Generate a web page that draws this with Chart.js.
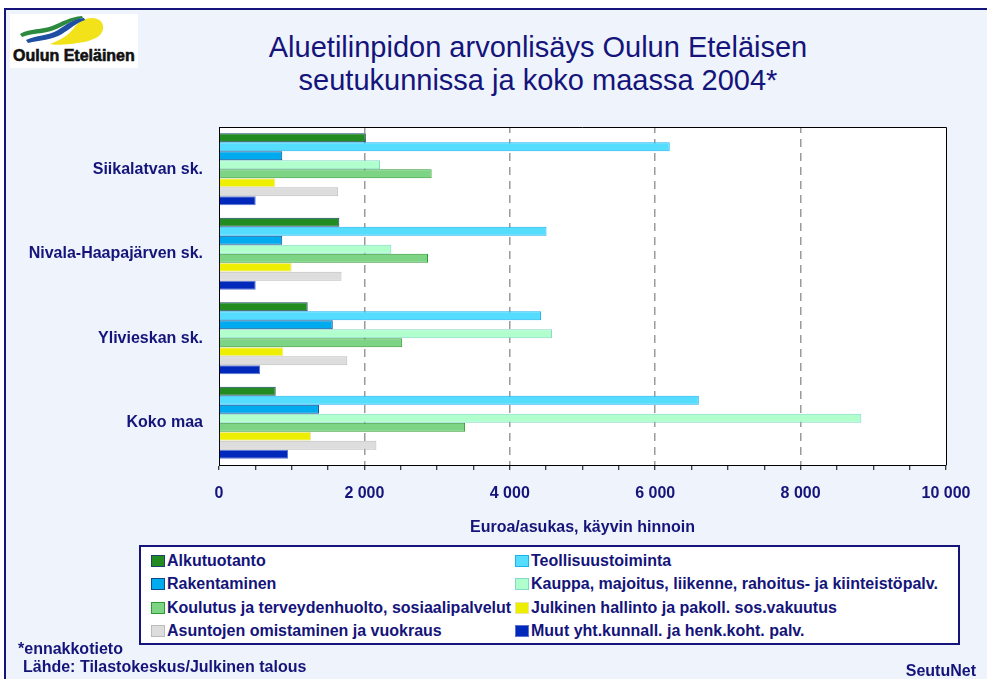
<!DOCTYPE html>
<html>
<head>
<meta charset="utf-8">
<script src="https://cdn.jsdelivr.net/npm/chart.js@4"></script>
<style>
  html, body { margin: 0; padding: 0; width: 987px; height: 679px; overflow: hidden; background: #fff;
    font-family: "Liberation Sans", Arial, sans-serif; }
  #frame { position: absolute; left: 4px; top: 8px; width: 990px; height: 680px;
    border-top: 2px solid #14147a; border-left: 2px solid #14147a; background: #eef3fc; }
  #wrap { position: absolute; left: 0; top: 0; width: 987px; height: 679px; }
  #logo { position: absolute; left: 10px; top: 14px; }
  .title { position: absolute; left: 153px; width: 770px; text-align: center; color: #14147a;
    font-size: 29px; line-height: 33px; top: 31px; }
  #legend { position: absolute; left: 139px; top: 545px; width: 817px; height: 96px;
    border: 2px solid #14147a; background: #fff; }
  .item { position: absolute; font-size: 16px; font-weight: bold; color: #14147a; white-space: nowrap;
    line-height: 18px; }
  .item span.sw { display: inline-block; width: 12px; height: 10px; margin-right: 2px; vertical-align: -1px; }
  .note { position: absolute; font-size: 16px; font-weight: bold; color: #14147a; white-space: nowrap; }
</style>
</head>
<body>
<div id="frame"></div>
<svg id="logo" width="128" height="54" viewBox="0 0 128 54">
  <rect x="0" y="0" width="128" height="54" fill="#fff"/>
  <path d="M40 30 C50 26, 58 22, 64 14 C68 8, 74 4, 82 4 C90 4, 94 9, 93 15 C92 22, 84 26, 74 28 C62 30, 50 32, 40 30 Z" fill="#f2e21a"/>
  <path d="M10 20 C20 14, 32 16, 42 12 C52 8, 60 3, 72 2 L73 4 C62 6, 54 12, 44 16 C34 20, 22 19, 12 23 Z" fill="#2b8a3e"/>
  <path d="M16 26 C26 21, 38 22, 48 16 C56 11, 62 5, 74 4 L75 6 C66 9, 60 15, 52 20 C42 26, 30 26, 18 29 Z" fill="#1f4fa3"/>
  <text x="3" y="47" font-family="Liberation Sans, Arial, sans-serif" font-weight="bold" font-size="16"
    fill="#111" stroke="#111" stroke-width="0.6">Oulun Eteläinen</text>
</svg>
<div class="title">Aluetilinpidon arvonlisäys Oulun Eteläisen<br>seutukunnissa ja koko maassa 2004*</div>
<div id="wrap"><canvas id="chart" width="987" height="679"></canvas></div>
<div id="legend"></div>
<div class="note" style="left:18px; top:640px;">*ennakkotieto</div>
<div class="note" style="left:23px; top:658px;">Lähde: Tilastokeskus/Julkinen talous</div>
<div class="note" style="right:11px; top:662px;">SeutuNet</div>
<script>
var regions = ['Siikalatvan sk.', 'Nivala-Haapajärven sk.', 'Ylivieskan sk.', 'Koko maa'];

var seriesNames = [
  'Alkutuotanto',
  'Teollisuustoiminta',
  'Rakentaminen',
  'Kauppa, majoitus, liikenne, rahoitus- ja kiinteistöpalv.',
  'Koulutus ja terveydenhuolto, sosiaalipalvelut',
  'Julkinen hallinto ja pakoll. sos.vakuutus',
  'Asuntojen omistaminen ja vuokraus',
  'Muut yht.kunnall. ja henk.koht. palv.'
];

// euro per inhabitant, one value per region
var alkutuotanto = [2020, 1655, 1220, 780];
var teollisuus = [6200, 4505, 4430, 6600];
var rakentaminen = [870, 870, 1565, 1375];
var kauppa = [2215, 2370, 4580, 8835];
var koulutus = [2925, 2875, 2520, 3385];
var julkinen = [775, 1000, 885, 1265];
var asuntojen = [1640, 1685, 1765, 2165];
var muut = [505, 505, 565, 950];

var xTicks = [0, 2000, 4000, 6000, 8000, 10000];

var fills = ['#228b22', '#55ddff', '#00aaee', '#b0ffcc', '#7cd484', '#eeee00', '#dddddd', '#0028bb'];
var borders = ['#1a426e', '#1ab2ee', '#0b4c8c', '#80d8c8', '#2f9a30', '#eae6a8', '#bbbbbb', '#5c74d0'];

var values = [alkutuotanto, teollisuus, rakentaminen, kauppa, koulutus, julkinen, asuntojen, muut];

Chart.defaults.font.family = '"Liberation Sans", Arial, sans-serif';

var frameBox = {
  id: 'frameBox',
  afterDraw: function (chart) {
    var a = chart.chartArea;
    var ctx = chart.ctx;
    ctx.save();
    ctx.strokeStyle = '#000';
    ctx.lineWidth = 1;
    ctx.beginPath();
    ctx.moveTo(a.left, a.top + 0.5);
    ctx.lineTo(a.right + 0.5, a.top + 0.5);
    ctx.lineTo(a.right + 0.5, a.bottom);
    ctx.stroke();
    ctx.restore();
  },
  beforeDraw: function (chart) {
    var a = chart.chartArea;
    chart.ctx.save();
    chart.ctx.fillStyle = '#fff';
    chart.ctx.fillRect(a.left, a.top, a.right - a.left, a.bottom - a.top);
    chart.ctx.restore();
  }
};

function fmt(v) {
  return String(v).replace(/\B(?=(\d{3})+(?!\d))/g, ' ');
}

var chart = new Chart(document.getElementById('chart'), {
  type: 'bar',
  data: {
    labels: regions,
    datasets: seriesNames.map(function (name, i) {
      return {
        label: name,
        data: values[i],
        backgroundColor: fills[i],
        borderColor: borders[i],
        borderWidth: 1,
        barPercentage: 1,
        categoryPercentage: 0.855
      };
    })
  },
  options: {
    indexAxis: 'y',
    responsive: false,
    animation: false,
    layout: { padding: { top: 127, right: 41, bottom: 134, left: 0 } },
    plugins: {
      legend: { display: false },
      tooltip: { enabled: false }
    },
    scales: {
      x: {
        min: 0,
        max: 10000,
        ticks: {
          stepSize: 500,
          autoSkip: false,
          maxRotation: 0,
          padding: 14,
          color: '#14147a',
          font: { size: 16, weight: 'bold' },
          callback: function (v) {
            return xTicks.indexOf(v) >= 0 ? fmt(v) : '';
          }
        },
        grid: {
          color: function (c) {
            var v = c.tick ? c.tick.value : 0;
            return (v % 2000 === 0 && v > 0 && v < 10000) ? '#9a9a9a' : 'rgba(0,0,0,0)';
          },
          lineWidth: 1.5,
          tickColor: '#000',
          tickLength: 5,
          tickWidth: 1
        },
        border: { color: '#000', width: 1, dash: [8, 6], dashOffset: 2 },
        title: {
          display: true,
          text: 'Euroa/asukas, käyvin hinnoin',
          color: '#14147a',
          font: { size: 16, weight: 'bold' },
          padding: { top: 0, bottom: 8 }
        },
        afterFit: function (s) { s.height = 80; }
      },
      y: {
        grid: { display: false, drawTicks: false },
        border: { color: '#000', width: 1 },
        ticks: {
          padding: 16,
          color: '#14147a',
          font: { size: 16, weight: 'bold' }
        },
        afterFit: function (s) { s.width = 219; }
      }
    }
  },
  plugins: [frameBox]
});

// legend in two columns, built from the chart's datasets
var legend = document.getElementById('legend');
chart.data.datasets.forEach(function (ds, i) {
  var col = i % 2, row = Math.floor(i / 2);
  var el = document.createElement('div');
  el.className = 'item';
  el.style.left = (col === 0 ? 10 : 374) + 'px';
  el.style.top = (5 + row * 23.3) + 'px';
  el.innerHTML = '<span class="sw" style="background:' + ds.backgroundColor +
    ';border:1px solid ' + ds.borderColor + '"></span>' + ds.label;
  legend.appendChild(el);
});
</script>
</body>
</html>
